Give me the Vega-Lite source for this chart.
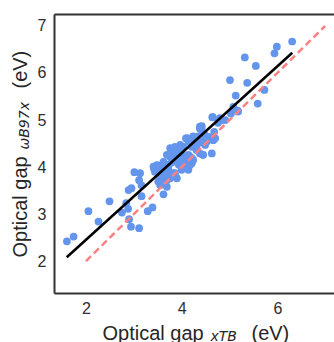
{
  "$schema": "https://vega.github.io/schema/vega-lite/v6.json",
  "width": 280,
  "height": 279,
  "autosize": {"type": "none"},
  "padding": {"left": 54, "top": 14, "right": 0, "bottom": 49},
  "background": "white",
  "config": {
    "view": {"stroke": null},
    "axis": {
      "labelFont": "Liberation Sans",
      "titleFont": "Liberation Sans",
      "labelFontSize": 16,
      "labelColor": "#2e2e2e",
      "titleColor": "#262626",
      "titleFontSize": 20,
      "titleFontWeight": "normal",
      "titleBaseline": "alphabetic",
      "titleAlign": "left",
      "ticks": false,
      "tickSize": 0,
      "grid": false,
      "domainColor": "#333333",
      "domainWidth": 2
    }
  },
  "resolve": {"axis": {"x": "independent", "y": "independent"}},
  "layer": [
    {
      "data": {"values": [
        {"x": 1.60, "y": 2.42}, {"x": 1.74, "y": 2.52}, {"x": 2.05, "y": 3.06}, {"x": 2.26, "y": 2.84},
        {"x": 2.49, "y": 3.27}, {"x": 2.75, "y": 3.03}, {"x": 2.84, "y": 3.23}, {"x": 2.88, "y": 3.11},
        {"x": 2.90, "y": 2.89}, {"x": 2.94, "y": 2.73}, {"x": 2.89, "y": 3.51}, {"x": 2.95, "y": 3.55},
        {"x": 3.01, "y": 3.89}, {"x": 3.13, "y": 3.87}, {"x": 3.11, "y": 3.72}, {"x": 3.16, "y": 3.61},
        {"x": 3.16, "y": 3.38}, {"x": 3.11, "y": 2.70}, {"x": 3.29, "y": 3.06}, {"x": 3.39, "y": 3.14},
        {"x": 3.62, "y": 3.42}, {"x": 3.42, "y": 3.97}, {"x": 3.90, "y": 3.76},
        {"x": 4.64, "y": 5.06}, {"x": 4.84, "y": 5.00}, {"x": 4.38, "y": 4.86}, {"x": 4.42, "y": 4.79},
        {"x": 4.56, "y": 4.64}, {"x": 4.70, "y": 4.61}, {"x": 4.09, "y": 4.61}, {"x": 4.24, "y": 4.64},
        {"x": 3.97, "y": 4.47}, {"x": 3.86, "y": 4.43}, {"x": 3.76, "y": 4.40}, {"x": 4.03, "y": 4.43},
        {"x": 3.90, "y": 4.33}, {"x": 3.69, "y": 4.26}, {"x": 3.79, "y": 4.19}, {"x": 3.62, "y": 4.11},
        {"x": 3.48, "y": 4.04}, {"x": 3.41, "y": 4.01}, {"x": 3.58, "y": 3.94}, {"x": 3.72, "y": 3.97},
        {"x": 4.14, "y": 4.26}, {"x": 4.21, "y": 4.19}, {"x": 4.07, "y": 4.11}, {"x": 4.17, "y": 4.04},
        {"x": 4.31, "y": 4.40}, {"x": 4.49, "y": 4.47}, {"x": 4.63, "y": 4.29}, {"x": 4.00, "y": 3.94},
        {"x": 3.86, "y": 3.87}, {"x": 3.55, "y": 3.79}, {"x": 3.44, "y": 3.90}, {"x": 3.76, "y": 3.76},
        {"x": 3.53, "y": 4.03}, {"x": 3.62, "y": 4.08}, {"x": 3.58, "y": 3.87}, {"x": 3.51, "y": 3.69},
        {"x": 3.55, "y": 3.62}, {"x": 3.69, "y": 3.72}, {"x": 3.69, "y": 3.90}, {"x": 3.76, "y": 4.22},
        {"x": 3.83, "y": 4.29}, {"x": 3.86, "y": 4.15}, {"x": 4.07, "y": 4.22}, {"x": 4.07, "y": 4.01},
        {"x": 4.10, "y": 4.61}, {"x": 4.14, "y": 4.54}, {"x": 4.14, "y": 3.94}, {"x": 4.17, "y": 4.22},
        {"x": 4.21, "y": 4.08}, {"x": 4.24, "y": 4.65}, {"x": 4.40, "y": 4.57}, {"x": 4.45, "y": 4.26},
        {"x": 4.52, "y": 4.54}, {"x": 4.66, "y": 4.57}, {"x": 4.68, "y": 4.75}, {"x": 4.38, "y": 4.52},
        {"x": 4.21, "y": 4.43}, {"x": 3.69, "y": 3.58}, {"x": 3.83, "y": 3.87}, {"x": 4.02, "y": 4.08},
        {"x": 4.24, "y": 4.15}, {"x": 4.31, "y": 4.36}, {"x": 4.38, "y": 4.29}, {"x": 4.12, "y": 4.61},
        {"x": 4.44, "y": 4.26}, {"x": 4.66, "y": 4.59},
        {"x": 3.50, "y": 3.98}, {"x": 3.64, "y": 4.00}, {"x": 3.73, "y": 4.05}, {"x": 3.80, "y": 4.10},
        {"x": 3.93, "y": 4.20}, {"x": 3.96, "y": 4.30}, {"x": 4.00, "y": 4.36}, {"x": 3.80, "y": 4.35},
        {"x": 3.66, "y": 3.82}, {"x": 3.62, "y": 3.75}, {"x": 3.94, "y": 4.05}, {"x": 4.28, "y": 4.55},
        {"x": 4.35, "y": 4.65}, {"x": 4.47, "y": 4.70},
        {"x": 4.65, "y": 5.06}, {"x": 4.80, "y": 5.04}, {"x": 4.91, "y": 5.00}, {"x": 5.03, "y": 5.14},
        {"x": 5.08, "y": 5.28}, {"x": 5.01, "y": 5.85}, {"x": 5.13, "y": 5.52}, {"x": 5.18, "y": 5.18},
        {"x": 5.32, "y": 6.33}, {"x": 5.37, "y": 5.79}, {"x": 5.55, "y": 6.15}, {"x": 5.59, "y": 5.35},
        {"x": 5.73, "y": 5.64}, {"x": 5.94, "y": 6.42}, {"x": 5.99, "y": 6.56}, {"x": 6.31, "y": 6.67},
        {"x": 4.38, "y": 4.82}, {"x": 4.42, "y": 4.87}, {"x": 4.76, "y": 4.94}, {"x": 5.17, "y": 5.20}
      ]},
      "mark": {"type": "circle", "size": 60, "color": "#6495ED", "opacity": 1},
      "encoding": {
        "x": {"field": "x", "type": "quantitative",
          "scale": {"domain": [1.33, 7.185], "nice": false, "zero": false},
          "axis": {"orient": "bottom", "values": [2, 4, 6], "labelPadding": 7, "labelBaseline": "top",
            "title": "Optical gap", "titleX": 48, "titleY": 46}},
        "y": {"field": "y", "type": "quantitative",
          "scale": {"domain": [1.32, 7.255], "nice": false, "zero": false},
          "axis": {"orient": "left", "values": [2, 3, 4, 5, 6, 7], "labelPadding": 8,
            "title": "Optical gap", "titleAngle": 270, "titleX": -27.5, "titleY": 243}}
      }
    },
    {
      "data": {"values": [{"x": 1.596, "y": 2.08}, {"x": 6.313, "y": 6.43}]},
      "mark": {"type": "line", "color": "black", "strokeWidth": 2.5},
      "encoding": {
        "x": {"field": "x", "type": "quantitative",
          "scale": {"domain": [1.33, 7.185], "nice": false, "zero": false},
          "axis": {"orient": "bottom", "labels": false, "domain": false,
            "title": "xTB", "titleFont": "DejaVu Sans", "titleFontStyle": "italic", "titleFontSize": 14,
            "titleX": 156, "titleY": 47}},
        "y": {"field": "y", "type": "quantitative",
          "scale": {"domain": [1.32, 7.255], "nice": false, "zero": false},
          "axis": {"orient": "left", "labels": false, "domain": false, "values": [7.255],
            "grid": true, "gridColor": "#333333", "gridWidth": 2, "gridOpacity": 1,
            "title": "ωB97x", "titleFont": "DejaVu Sans", "titleFontStyle": "italic", "titleFontSize": 14,
            "titleAngle": 270, "titleX": -26, "titleY": 135}}
      }
    },
    {
      "data": {"values": [{"x": 2, "y": 2}, {"x": 7, "y": 7}]},
      "mark": {"type": "line", "color": "#ff8080", "strokeWidth": 2.5, "strokeDash": [7, 4]},
      "encoding": {
        "x": {"field": "x", "type": "quantitative",
          "scale": {"domain": [1.33, 7.185], "nice": false, "zero": false},
          "axis": {"orient": "bottom", "labels": false, "domain": false,
            "title": "(eV)", "titleX": 197, "titleY": 46}},
        "y": {"field": "y", "type": "quantitative",
          "scale": {"domain": [1.32, 7.255], "nice": false, "zero": false},
          "axis": {"orient": "left", "labels": false, "domain": false,
            "title": "(eV)", "titleAngle": 270, "titleX": -27.5, "titleY": 74}}
      }
    }
  ]
}
